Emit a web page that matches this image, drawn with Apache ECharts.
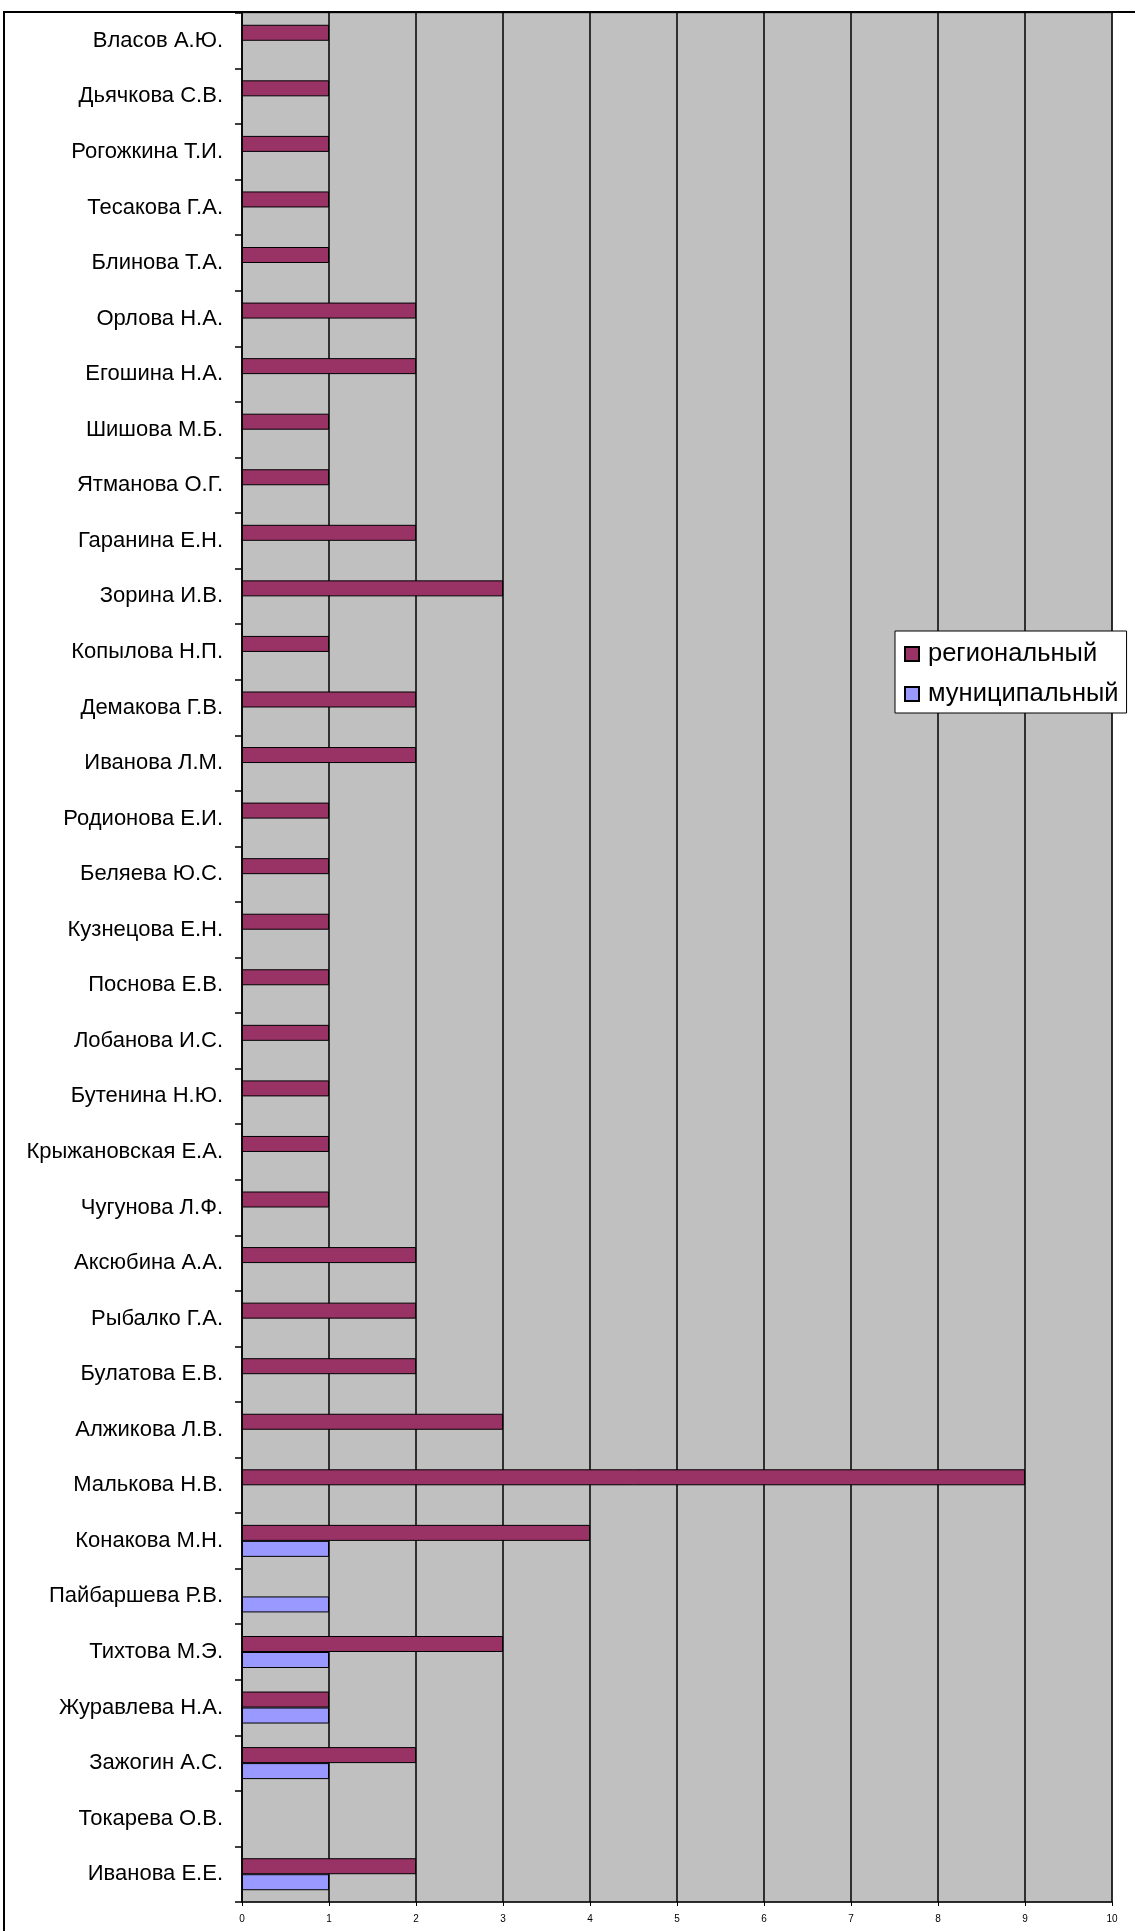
<!DOCTYPE html>
<html>
<head>
<meta charset="utf-8">
<script src="https://cdn.jsdelivr.net/npm/echarts@6/dist/echarts.min.js"></script>
<style>
html,body{margin:0;padding:0;background:#fff;}
#chart{width:1135px;height:1931px;}
</style>
</head>
<body>
<div id="chart"></div>
<script>
const categories = [
  "Власов А.Ю.", "Дьячкова С.В.", "Рогожкина Т.И.", "Тесакова Г.А.", "Блинова Т.А.",
  "Орлова Н.А.", "Егошина Н.А.", "Шишова М.Б.", "Ятманова О.Г.", "Гаранина Е.Н.",
  "Зорина И.В.", "Копылова Н.П.", "Демакова Г.В.", "Иванова Л.М.", "Родионова Е.И.",
  "Беляева Ю.С.", "Кузнецова Е.Н.", "Поснова Е.В.", "Лобанова И.С.", "Бутенина Н.Ю.",
  "Крыжановская Е.А.", "Чугунова Л.Ф.", "Аксюбина А.А.", "Рыбалко Г.А.", "Булатова Е.В.",
  "Алжикова Л.В.", "Малькова Н.В.", "Конакова М.Н.", "Пайбаршева Р.В.", "Тихтова М.Э.",
  "Журавлева Н.А.", "Зажогин А.С.", "Токарева О.В.", "Иванова Е.Е."
];
const regional = [
  1, 1, 1, 1, 1,
  2, 2, 1, 1, 2,
  3, 1, 2, 2, 1,
  1, 1, 1, 1, 1,
  1, 1, 2, 2, 2,
  3, 9, 4, null, 3,
  1, 2, null, 2
];
const municipal = [
  null, null, null, null, null,
  null, null, null, null, null,
  null, null, null, null, null,
  null, null, null, null, null,
  null, null, null, null, null,
  null, null, 1, 1, 1,
  1, 1, null, 1
];
const seriesNames = ["региональный", "муниципальный"];
const xTicks = [0, 1, 2, 3, 4, 5, 6, 7, 8, 9, 10];

const chart = echarts.init(document.getElementById('chart'), null, {renderer: 'canvas'});
const font = '"Liberation Sans", Arial, sans-serif';
chart.setOption({
  animation: false,
  backgroundColor: '#ffffff',
  textStyle: {fontFamily: font},
  graphic: [{
    type: 'rect', z: 0, silent: true,
    shape: {x: 4, y: 12, width: 1300, height: 2100},
    style: {fill: 'none', stroke: '#000', lineWidth: 2}
  }],
  grid: {
    left: 242, top: 13, right: 23, bottom: 29,
    show: true, backgroundColor: '#C0C0C0', borderColor: '#808080', borderWidth: 1
  },
  legend: {
    orient: 'vertical',
    left: 895, top: 631,
    padding: [10, 8, 6, 9],
    backgroundColor: '#fff',
    borderColor: '#000', borderWidth: 1,
    itemWidth: 14, itemHeight: 14, itemGap: 14,
    icon: 'rect',
    textStyle: {fontSize: 25.5, color: '#000', fontFamily: font, padding: [0, 0, 0, 4]},
    data: seriesNames
  },
  xAxis: {
    type: 'value', min: xTicks[0], max: xTicks[xTicks.length - 1], interval: 1,
    axisLine: {show: true, lineStyle: {color: '#000', width: 1.5}},
    axisTick: {show: true, length: 4, lineStyle: {color: '#000', width: 1}},
    axisLabel: {fontSize: 10, color: '#000', margin: 12, fontFamily: font},
    splitLine: {show: true, lineStyle: {color: '#000', width: 1.5}}
  },
  yAxis: {
    type: 'category', data: categories, inverse: true,
    axisLine: {show: true, lineStyle: {color: '#000', width: 1.5}},
    axisTick: {show: true, length: 7, lineStyle: {color: '#000', width: 1.5}},
    axisLabel: {fontSize: 22, color: '#000', margin: 19, fontFamily: font},
    splitLine: {show: false}
  },
  series: [
    {
      name: seriesNames[0], type: 'bar', data: regional,
      barWidth: 16, barGap: '0%',
      itemStyle: {color: '#993366', borderColor: '#000', borderWidth: 1}
    },
    {
      name: seriesNames[1], type: 'bar', data: municipal,
      barWidth: 16, barGap: '0%',
      itemStyle: {color: '#9999FF', borderColor: '#000', borderWidth: 1}
    }
  ]
});
</script>
</body>
</html>
